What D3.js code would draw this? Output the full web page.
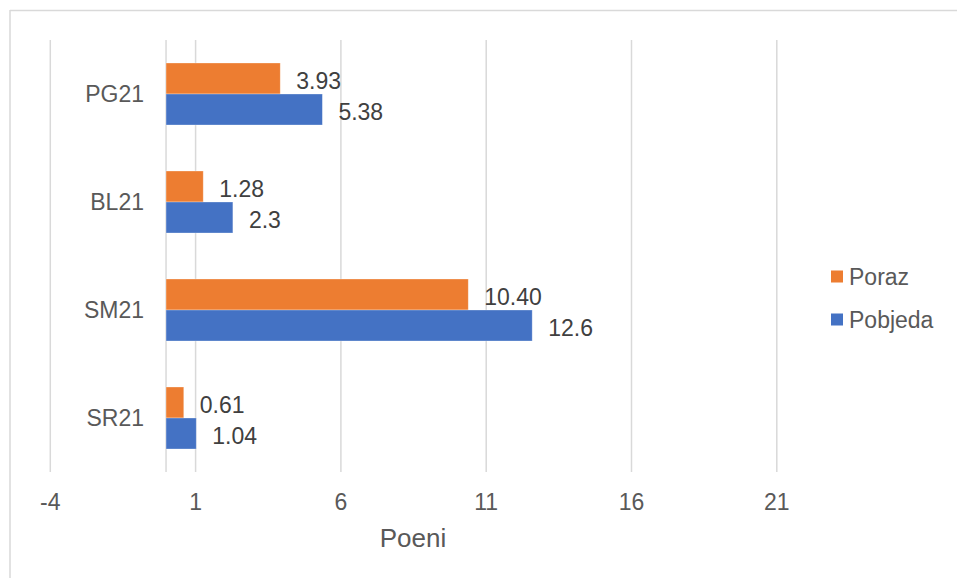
<!DOCTYPE html>
<html>
<head>
<meta charset="utf-8">
<script src="https://cdn.jsdelivr.net/npm/d3@7"></script>
<style>
  html, body { margin: 0; padding: 0; background: #fff; }
  svg { display: block; font-family: "Liberation Sans", Arial, sans-serif; }
</style>
</head>
<body>
<svg id="chart" width="957" height="578"></svg>
<script>
const categories = ["PG21", "BL21", "SM21", "SR21"];
const seriesNames = ["Poraz", "Pobjeda"];
const porazValues = [3.93, 1.28, 10.40, 0.61];
const pobjedaValues = [5.38, 2.3, 12.6, 1.04];
const porazLabels = ["3.93", "1.28", "10.40", "0.61"];
const pobjedaLabels = ["5.38", "2.3", "12.6", "1.04"];
const xTicks = [-4, 1, 6, 11, 16, 21];
const axisTitle = "Poeni";

const colors = { "Poraz": "#ED7D31", "Pobjeda": "#4472C4" };
const FS = 23;

const svg = d3.select("#chart");

// chart border (top and left visible)
svg.append("line").attr("x1", 10).attr("x2", 957).attr("y1", 10.5).attr("y2", 10.5)
  .attr("stroke", "#d9d9d9").attr("stroke-width", 1.5);
svg.append("line").attr("x1", 10).attr("x2", 10).attr("y1", 10).attr("y2", 578)
  .attr("stroke", "#d9d9d9").attr("stroke-width", 1.5);

const plotTop = 40, plotBottom = 472;
const x = d3.scaleLinear().domain([-4, 24]).range([49.8, 49.8 + 28 * 29.06]);
const y = d3.scaleBand().domain(categories).range([plotTop, plotBottom]).paddingInner(0).paddingOuter(0);
const inner = d3.scaleBand().domain(seriesNames).range([23, y.bandwidth() - 23]).padding(0);

// gridlines via axis
const gridAxis = d3.axisBottom(x).tickValues(xTicks).tickSize(-(plotBottom - plotTop)).tickFormat("");
const gGrid = svg.append("g").attr("transform", `translate(0,${plotBottom})`).call(gridAxis);
gGrid.select(".domain").remove();
gGrid.selectAll("line").attr("stroke", "#d9d9d9").attr("stroke-width", 1.5);

// tick labels
const labelAxis = d3.axisBottom(x).tickValues(xTicks).tickSize(0).tickPadding(0).tickFormat(d => String(d));
const gLab = svg.append("g").attr("transform", `translate(0,${plotBottom})`).call(labelAxis);
gLab.select(".domain").remove();
gLab.selectAll("text").attr("y", 30).attr("dy", "0.35em")
  .attr("font-size", FS).attr("fill", "#595959").attr("font-family", "Liberation Sans, Arial, sans-serif");

// category axis line at zero
svg.append("line").attr("x1", x(0)).attr("x2", x(0)).attr("y1", plotTop).attr("y2", plotBottom)
  .attr("stroke", "#d9d9d9").attr("stroke-width", 1.5);

// category labels
const yAxis = d3.axisLeft(y).tickSize(0).tickPadding(0);
const gY = svg.append("g").attr("transform", `translate(144,0)`).call(yAxis);
gY.select(".domain").remove();
gY.selectAll("text").attr("font-size", FS).attr("fill", "#595959")
  .attr("font-family", "Liberation Sans, Arial, sans-serif").attr("dy", "0.35em");

// bars
const rows = [];
categories.forEach((c, i) => {
  rows.push({ cat: c, series: "Poraz", value: porazValues[i], label: porazLabels[i] });
  rows.push({ cat: c, series: "Pobjeda", value: pobjedaValues[i], label: pobjedaLabels[i] });
});

svg.append("g").selectAll("rect").data(rows).join("rect")
  .attr("x", d => x(0))
  .attr("y", d => y(d.cat) + inner(d.series))
  .attr("width", d => x(d.value) - x(0))
  .attr("height", inner.bandwidth())
  .attr("fill", d => colors[d.series])
  .attr("stroke", "#ffffff").attr("stroke-opacity", 0.4).attr("stroke-width", 0.75);

svg.append("g").selectAll("text").data(rows).join("text")
  .attr("x", d => x(d.value) + 16)
  .attr("y", d => y(d.cat) + inner(d.series) + inner.bandwidth() / 2 + 2)
  .attr("dy", "0.35em")
  .attr("font-size", FS).attr("fill", "#404040")
  .text(d => d.label);

// axis title
svg.append("text").attr("x", 413).attr("y", 538).attr("dy", "0.35em")
  .attr("text-anchor", "middle").attr("font-size", 26).attr("fill", "#595959")
  .text(axisTitle);

// legend
const legend = svg.append("g");
seriesNames.forEach((s, i) => {
  const cy = 276.5 + i * 43;
  legend.append("rect").attr("x", 831).attr("y", cy - 6).attr("width", 12).attr("height", 12)
    .attr("fill", colors[s]);
  legend.append("text").attr("x", 849).attr("y", cy).attr("dy", "0.35em")
    .attr("font-size", FS).attr("fill", "#595959").text(s);
});
</script>
</body>
</html>
